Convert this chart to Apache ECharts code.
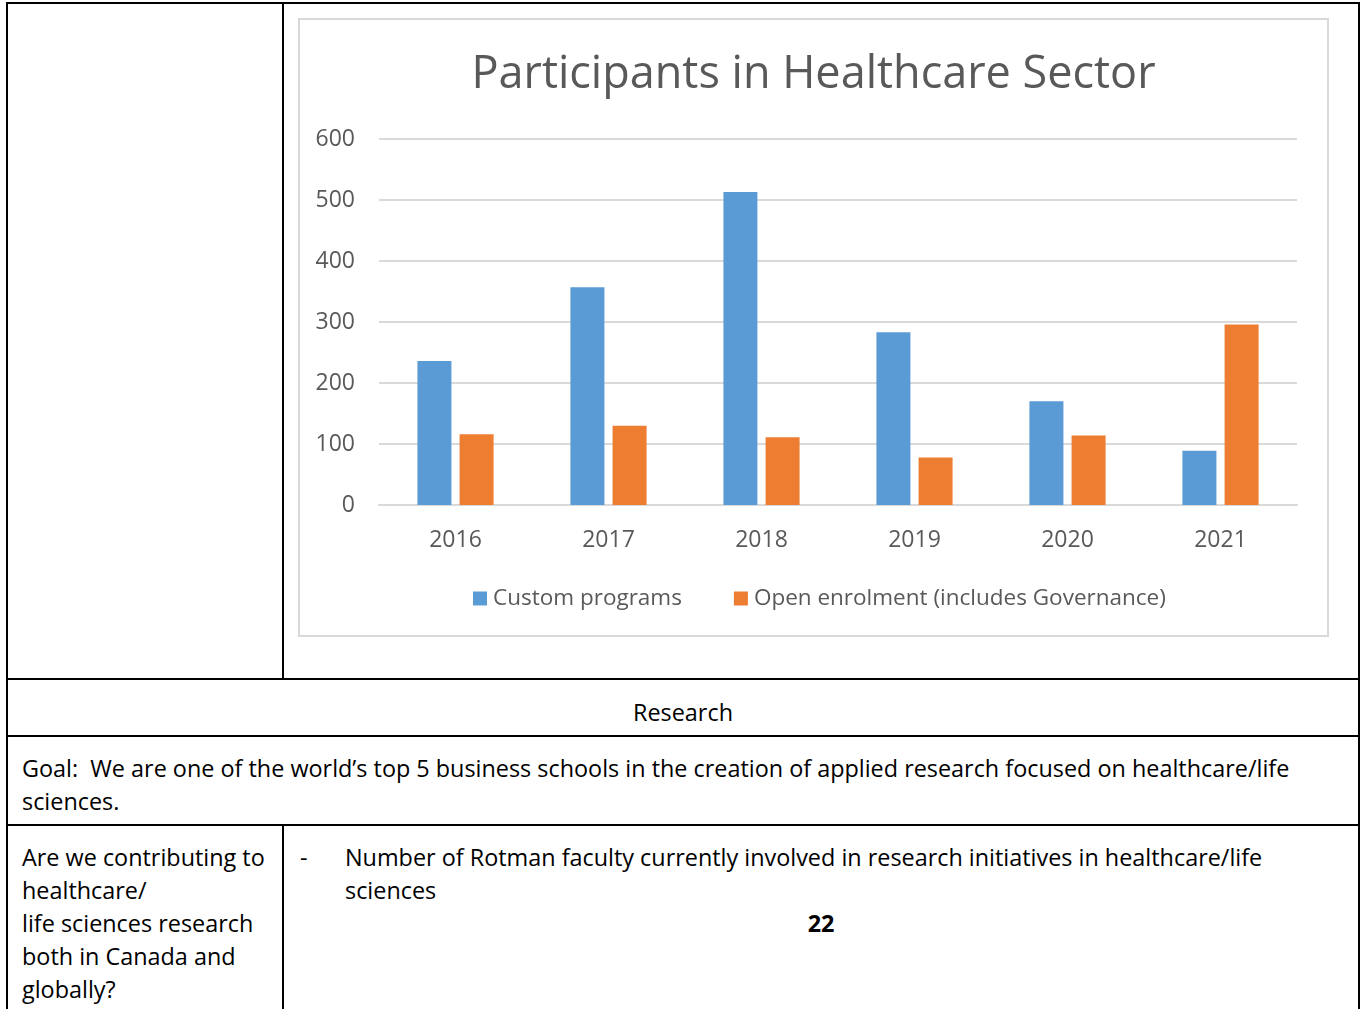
<!DOCTYPE html>
<html>
<head>
<meta charset="utf-8">
<title>Participants in Healthcare Sector</title>
<script src="https://cdn.jsdelivr.net/npm/echarts@6/dist/echarts.min.js"></script>
<style>
  html, body { margin: 0; padding: 0; background: #ffffff; }
  body { width: 1365px; height: 1009px; position: relative; overflow: hidden;
         font-family: "Open Sans", "Noto Sans", sans-serif; color: #000; }
  .line { position: absolute; background: #000; }
  .txt { position: absolute; font-size: 23.4px; line-height: 33px; white-space: nowrap; }
  #chartBox { position: absolute; left: 298px; top: 18px; width: 1031px; height: 619px;
              box-sizing: border-box; border: 2px solid #d9d9d9; background: #fff; }
  #chart { width: 100%; height: 100%; }
</style>
</head>
<body>
  <!-- table borders -->
  <div class="line" style="left:6px;top:2px;width:1354px;height:2px"></div>
  <div class="line" style="left:6px;top:2px;width:2px;height:1010px"></div>
  <div class="line" style="left:1358px;top:2px;width:2px;height:1010px"></div>
  <div class="line" style="left:282px;top:2px;width:2px;height:678px"></div>
  <div class="line" style="left:6px;top:678px;width:1354px;height:2px"></div>
  <div class="line" style="left:6px;top:735px;width:1354px;height:2px"></div>
  <div class="line" style="left:6px;top:824px;width:1354px;height:2px"></div>
  <div class="line" style="left:282px;top:824px;width:2px;height:190px"></div>

  <div id="chartBox"><div id="chart"></div></div>

  <div class="txt" style="left:8px;width:1350px;top:696px;text-align:center">Research</div>
  <div class="txt" style="left:22px;top:752px">Goal:&nbsp; We are one of the world’s top 5 business schools in the creation of applied research focused on healthcare/life<br>sciences.</div>
  <div class="txt" style="left:22px;top:841px">Are we contributing to<br>healthcare/<br>life sciences research<br>both in Canada and<br>globally?</div>
  <div class="txt" style="left:300px;top:841px">-</div>
  <div class="txt" style="left:345px;top:841px">Number of Rotman faculty currently involved in research initiatives in healthcare/life<br>sciences</div>
  <div class="txt" style="left:284px;width:1074px;top:907px;text-align:center;font-weight:bold">22</div>

<script>
// 数据
const years = ['2016', '2017', '2018', '2019', '2020', '2021']
const customPrograms = [236, 357, 513, 283, 170, 89]
const openEnrolment = [116, 130, 111, 78, 114, 296]
const seriesNames = ['Custom programs', 'Open enrolment (includes Governance)']
const chartTitle = 'Participants in Healthcare Sector'

const myChart = echarts.init(document.getElementById('chart'))
const grayText = '#595959'
const font = '"Open Sans", "Noto Sans", sans-serif'

const option = {
  color: ['#5b9bd5', '#ed7d31'],
  animation: false,
  title: {
    text: chartTitle,
    left: 'center',
    top: 28,
    textStyle: { color: grayText, fontSize: 45, fontWeight: 'normal', fontFamily: font }
  },
  legend: {
    data: seriesNames,
    left: 168,
    top: 562,
    icon: 'rect',
    itemWidth: 14,
    itemHeight: 14,
    itemGap: 52,
    textStyle: { color: grayText, fontSize: 22.5, fontFamily: font, padding: [0, 0, 0, 1] }
  },
  grid: { left: 79, right: 30, top: 119, bottom: 130 },
  xAxis: {
    type: 'category',
    data: years,
    axisTick: { show: false },
    axisLine: { lineStyle: { color: '#d9d9d9', width: 2 } },
    axisLabel: { color: grayText, fontSize: 23, fontFamily: font, margin: 24 }
  },
  yAxis: {
    type: 'value',
    min: 0,
    max: 600,
    interval: 100,
    axisLine: { show: false },
    axisTick: { show: false },
    axisLabel: { color: grayText, fontSize: 23, fontFamily: font, margin: 24 },
    splitLine: { lineStyle: { color: '#d9d9d9', width: 2 } }
  },
  series: [
    {
      name: seriesNames[0],
      type: 'bar',
      barWidth: 34,
      barGap: '24%',
      data: customPrograms
    },
    {
      name: seriesNames[1],
      type: 'bar',
      barWidth: 34,
      data: openEnrolment
    }
  ]
}
myChart.setOption(option)
</script>
</body>
</html>
